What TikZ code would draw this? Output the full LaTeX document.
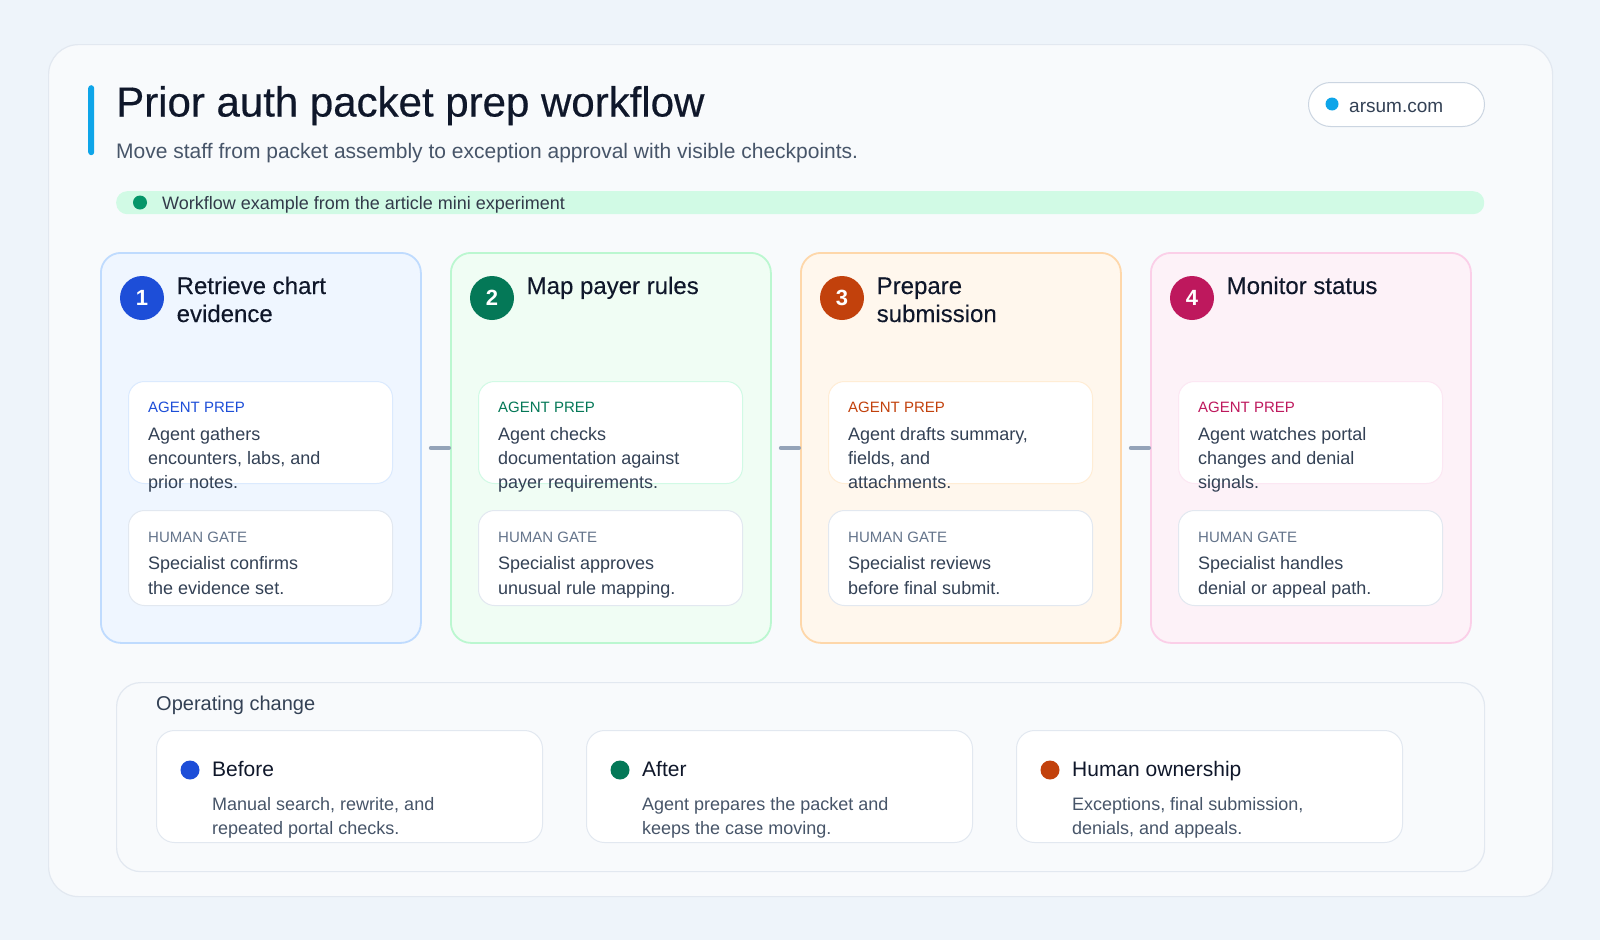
\documentclass[tikz,border=0pt]{standalone}
\usepackage{fontspec}
\setmainfont{Liberation Sans}
\newfontfamily\titlefont[FakeBold=0.4]{Liberation Sans}
\newfontfamily\medfont[FakeBold=0.15]{Liberation Sans}
\usetikzlibrary{calc}
\definecolor{pagebg}{HTML}{EEF4FA}
\definecolor{cardbg}{HTML}{F8FAFC}
\definecolor{cardline}{HTML}{E2E8F0}
\definecolor{pillline}{HTML}{CBD5E1}
\definecolor{ink}{HTML}{0F172A}
\definecolor{slateA}{HTML}{334155}
\definecolor{slateB}{HTML}{475569}
\definecolor{slateC}{HTML}{64748B}
\definecolor{connc}{HTML}{94A3B8}
\definecolor{sky}{HTML}{0EA5E9}
\definecolor{mint}{HTML}{D1FAE5}
\definecolor{mintdot}{HTML}{059669}
\definecolor{blueD}{HTML}{1D4ED8}\definecolor{blueF}{HTML}{EFF6FF}\definecolor{blueB}{HTML}{BFDBFE}\definecolor{blueL}{HTML}{DBEAFE}
\definecolor{greenD}{HTML}{047857}\definecolor{greenF}{HTML}{F0FDF4}\definecolor{greenB}{HTML}{BBF7D0}\definecolor{greenL}{HTML}{D1FAE5}
\definecolor{orangeD}{HTML}{C2410C}\definecolor{orangeF}{HTML}{FFF7ED}\definecolor{orangeB}{HTML}{FED7AA}\definecolor{orangeL}{HTML}{FFEDD5}
\definecolor{pinkD}{HTML}{BE185D}\definecolor{pinkF}{HTML}{FDF2F8}\definecolor{pinkB}{HTML}{FBCFE8}\definecolor{pinkL}{HTML}{FCE7F3}

\newcommand\tlines[6]{%
  \foreach \tl [count=\ti from 0] in {#6}{%
    \node[#4,anchor=base west,inner sep=0pt] (#1-\ti) at ({#2},{#3+#5*\ti}) {\tl};}}

\newcommand\stepcol[6]{%
  \node[colbox, fill=#4, draw=#5] (col#1) at (#2,252) {};
  \node[numdot, fill=#3] (num#1) at (#2+42,298) {#1};
  \node[incard, draw=#6, minimum height=102pt] (ag#1) at (#2+28,381) {};
  \node[incard, draw=cardline, minimum height=95pt] (hu#1) at (#2+28,510) {};
  \node[tagtxt, text=#3] (agt#1) at (#2+48,412) {AGENT PREP};
  \node[tagtxt, text=slateC] (hut#1) at (#2+48,542) {HUMAN GATE};
}

\begin{document}
\begin{tikzpicture}[x=1pt,y=-1pt,
  outerbox/.style={rectangle, rounded corners=30pt, fill=cardbg, draw=cardline, line width=1.2pt, anchor=north west, inner sep=0pt, minimum width=1504pt, minimum height=852pt},
  colbox/.style={rectangle, rounded corners=20pt, line width=1.8pt, anchor=north west, inner sep=0pt, minimum width=320pt, minimum height=390pt},
  incard/.style={rectangle, rounded corners=16pt, fill=white, line width=1pt, anchor=north west, inner sep=0pt, minimum width=264pt},
  numdot/.style={circle, inner sep=0pt, minimum size=44pt, text=white, font=\bfseries\fontsize{22}{22}\selectfont},
  tagtxt/.style={anchor=base west, inner sep=0pt, font=\fontsize{15}{15}\selectfont},
  steptitle/.style={text=ink, font=\medfont\fontsize{24}{24}\selectfont},
  body/.style={text=slateA, font=\fontsize{18}{18}\selectfont},
  opbody/.style={text=slateB, font=\fontsize{18}{18}\selectfont},
  conn/.style={draw=connc, line width=4pt, line cap=round},
  subcard/.style={rectangle, rounded corners=18pt, fill=white, draw=cardline, line width=1pt, anchor=north west, inner sep=0pt, minimum width=386pt, minimum height=112pt},
  dotnode/.style={circle, inner sep=0pt, minimum size=#1},
  dotnode/.default=19pt
]
\useasboundingbox (0,0) rectangle (1600,940);
\fill[pagebg] (0,0) rectangle (1600,940);

% outer card
\node[outerbox] (card) at (48,44) {};

% header
\node[rectangle, fill=sky, rounded corners=3pt, inner sep=0pt, minimum width=6pt, minimum height=70pt, anchor=north west] (bar) at (88,85) {};
\node[anchor=base west, inner sep=0pt, text=ink, font=\titlefont\fontsize{42}{42}\selectfont] (title) at (116,116.5) {Prior auth packet prep workflow};
\node[anchor=base west, inner sep=0pt, text=slateB, font=\fontsize{21}{21}\selectfont] (subtitle) at (116,158.5) {Move staff from packet assembly to exception approval with visible checkpoints.};

% site pill
\node[rectangle, rounded corners=22pt, fill=white, draw=pillline, line width=1pt, inner sep=0pt, minimum width=176pt, minimum height=44pt, anchor=north west] (pill) at (1308,82) {};
\node[dotnode=13pt, fill=sky] (pilldot) at (1332,104) {};
\node[anchor=base west, inner sep=0pt, text=slateA, font=\fontsize{19}{19}\selectfont] (site) at (1349,112) {arsum.com};

% banner
\node[rectangle, rounded corners=11pt, fill=mint, inner sep=0pt, minimum width=1368pt, minimum height=23pt, anchor=north west] (banner) at (116,191) {};
\node[dotnode=14pt, fill=mintdot] (bandot) at (140,202.5) {};
\node[anchor=base west, inner sep=0pt, text=ink!85, font=\fontsize{18}{18}\selectfont] (bantxt) at (162,209) {Workflow example from the article mini experiment};

% step columns
\stepcol{1}{100}{blueD}{blueF}{blueB}{blueL}
\stepcol{2}{450}{greenD}{greenF}{greenB}{greenL}
\stepcol{3}{800}{orangeD}{orangeF}{orangeB}{orangeL}
\stepcol{4}{1150}{pinkD}{pinkF}{pinkB}{pinkL}

\tlines{t1}{176.5}{294}{steptitle}{28}{Retrieve chart,evidence}
\tlines{t2}{526.5}{294}{steptitle}{28}{Map payer rules}
\tlines{t3}{876.5}{294}{steptitle}{28}{Prepare,submission}
\tlines{t4}{1226.5}{294}{steptitle}{28}{Monitor status}

\tlines{a1}{148}{440.5}{body}{24}{Agent gathers,{encounters, labs, and},prior notes.}
\tlines{a2}{498}{440.5}{body}{24}{Agent checks,documentation against,payer requirements.}
\tlines{a3}{848}{440.5}{body}{24}{{Agent drafts summary,},{fields, and},attachments.}
\tlines{a4}{1198}{440.5}{body}{24}{Agent watches portal,changes and denial,signals.}

\tlines{h1}{148}{569.5}{body}{24.5}{Specialist confirms,the evidence set.}
\tlines{h2}{498}{569.5}{body}{24.5}{Specialist approves,unusual rule mapping.}
\tlines{h3}{848}{569.5}{body}{24.5}{Specialist reviews,before final submit.}
\tlines{h4}{1198}{569.5}{body}{24.5}{Specialist handles,denial or appeal path.}

% connectors
\draw[conn] ([xshift=9pt]col1.east) -- ([xshift=-1pt]col2.west);
\draw[conn] ([xshift=9pt]col2.east) -- ([xshift=-1pt]col3.west);
\draw[conn] ([xshift=9pt]col3.east) -- ([xshift=-1pt]col4.west);

% operating change
\node[rectangle, rounded corners=24pt, fill=cardbg, draw=cardline, line width=1.2pt, inner sep=0pt, minimum width=1368pt, minimum height=189pt, anchor=north west] (op) at (116,682) {};
\node[anchor=base west, inner sep=0pt, text=slateA, font=\fontsize{20}{20}\selectfont] (optitle) at (156,710) {Operating change};

\node[subcard] (before) at (156,730) {};
\node[subcard] (after) at (586,730) {};
\node[subcard] (human) at (1016,730) {};

\node[dotnode, fill=blueD] (bdot) at (190,770) {};
\node[dotnode, fill=greenD] (adot) at (620,770) {};
\node[dotnode, fill=orangeD] (hdot) at (1050,770) {};

\node[anchor=base west, inner sep=0pt, text=ink, font=\fontsize{21}{21}\selectfont] (btitle) at (212,776.5) {Before};
\node[anchor=base west, inner sep=0pt, text=ink, font=\fontsize{21}{21}\selectfont] (atitle) at (642,776.5) {After};
\node[anchor=base west, inner sep=0pt, text=ink, font=\fontsize{21}{21}\selectfont] (htitle) at (1072,776.5) {Human ownership};

\tlines{bb}{212}{810}{opbody}{24.5}{{Manual search, rewrite, and},repeated portal checks.}
\tlines{ab}{642}{810}{opbody}{24.5}{Agent prepares the packet and,keeps the case moving.}
\tlines{hb}{1072}{810}{opbody}{24.5}{{Exceptions, final submission,},{denials, and appeals.}}
\end{tikzpicture}
\end{document}
